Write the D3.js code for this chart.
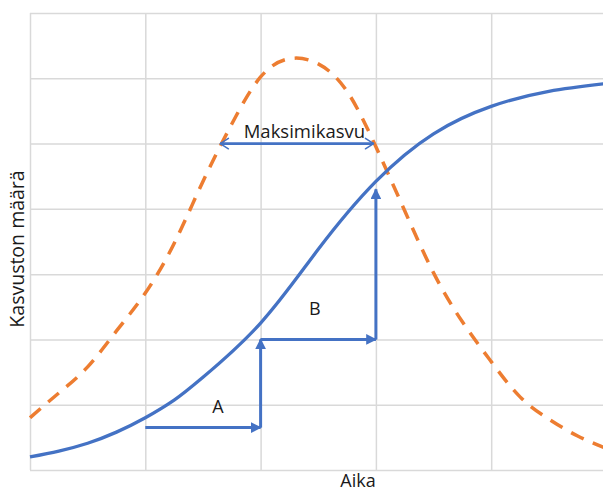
<!DOCTYPE html>
<html>
<head>
<meta charset="utf-8">
<script src="https://cdn.jsdelivr.net/npm/d3@7"></script>
<style>
  body { margin: 0; background: #fff; }
  svg { display: block; font-family: "Open Sans", "Noto Sans", sans-serif; }
</style>
</head>
<body>
<div id="chart"></div>
<script>
// growth curve (blue): time, amount
var growthX = [0, 0.25, 0.5, 0.75, 1, 1.25, 1.5, 2, 2.5, 3, 3.5, 4, 4.5, 5];
var growthY = [0.2, 0.29, 0.41, 0.58, 0.8, 1.07, 1.42, 2.25, 3.38, 4.42, 5.15, 5.57, 5.8, 5.92];

// growth rate (orange dashed)
var rateX = [0, 0.25, 0.5, 0.75, 1, 1.25, 1.5, 1.75, 2, 2.25, 2.5, 2.75, 3, 3.25, 3.5, 3.75, 4, 4.25, 4.5, 4.75, 5];
var rateY = [0.8, 1.18, 1.58, 2.13, 2.71, 3.47, 4.42, 5.3, 6.02, 6.3, 6.22, 5.8, 4.95, 3.97, 3.02, 2.27, 1.66, 1.12, 0.78, 0.52, 0.33];

// step arrows A and B: [x1, y1, x2, y2]
var stepArrows = [
  [1, 0.65, 2, 0.65],
  [2, 0.65, 2, 2.0],
  [2, 2.0, 3, 2.0],
  [3, 2.0, 3, 4.3]
];
// double arrow for "Maksimikasvu"
var maxArrow = [1.65, 5.0, 2.98, 5.0];

var labels = [
  {text: "A", x: 1.63, y: 0.87},
  {text: "B", x: 2.47, y: 2.37},
  {text: "Maksimikasvu", x: 2.38, y: 5.08}
];

var xTicks = [0, 1, 2, 3, 4, 5];
var yTicks = [0, 1, 2, 3, 4, 5, 6, 7];

var W = 603, H = 491;
var blue = "#4472c4", orange = "#ed7d31";

var svg = d3.select("#chart").append("svg")
    .attr("width", W)
    .attr("height", H);

var x = d3.scaleLinear().domain([0, 5]).range([30, 606.5]);
var y = d3.scaleLinear().domain([0, 7]).range([470, 13]);

// arrow heads
var defs = svg.append("defs");
defs.append("marker")
    .attr("id", "tri")
    .attr("viewBox", "0 0 10 10")
    .attr("refX", 9).attr("refY", 5)
    .attr("markerWidth", 3.6).attr("markerHeight", 3.6)
    .attr("markerUnits", "strokeWidth")
    .attr("orient", "auto")
    .append("path")
    .attr("d", "M0,0 L10,5 L0,10 Z")
    .attr("fill", blue);
defs.append("marker")
    .attr("id", "open")
    .attr("viewBox", "0 0 12 12")
    .attr("refX", 10).attr("refY", 6)
    .attr("markerWidth", 5).attr("markerHeight", 5)
    .attr("markerUnits", "strokeWidth")
    .attr("orient", "auto-start-reverse")
    .append("path")
    .attr("d", "M3,1.5 L10,6 L3,10.5")
    .attr("fill", "none")
    .attr("stroke", blue)
    .attr("stroke-width", 1.3)
    .attr("stroke-linecap", "round")
    .attr("stroke-linejoin", "round");

// grid
svg.append("g")
    .attr("transform", "translate(0," + y(0) + ")")
    .call(d3.axisBottom(x).tickValues(xTicks).tickSize(-(y(0) - y(7))).tickFormat(""))
    .call(function(g) {
      g.select(".domain").remove();
      g.selectAll("line").attr("stroke", "#d9d9d9").attr("stroke-width", 1.5);
    });
svg.append("g")
    .attr("transform", "translate(" + x(0) + ",0)")
    .call(d3.axisLeft(y).tickValues(yTicks).tickSize(-(x(5) - x(0))).tickFormat(""))
    .call(function(g) {
      g.select(".domain").remove();
      g.selectAll("line").attr("stroke", "#d9d9d9").attr("stroke-width", 1.5);
    });

// rate curve
var rateLine = d3.line()
    .x(function(d, i) { return x(rateX[i]); })
    .y(function(d, i) { return y(rateY[i]); })
    .curve(d3.curveNatural);
svg.append("path")
    .attr("d", rateLine(rateX))
    .attr("fill", "none")
    .attr("stroke", orange)
    .attr("stroke-width", 3.5)
    .attr("stroke-dasharray", "14,10");

// growth curve
var growthLine = d3.line()
    .x(function(d, i) { return x(growthX[i]); })
    .y(function(d, i) { return y(growthY[i]); })
    .curve(d3.curveNatural);
svg.append("path")
    .attr("d", growthLine(growthX))
    .attr("fill", "none")
    .attr("stroke", blue)
    .attr("stroke-width", 3.3);

// step arrows
svg.selectAll(".step")
    .data(stepArrows)
    .enter().append("line")
    .attr("class", "step")
    .attr("x1", function(d) { return x(d[0]); })
    .attr("y1", function(d) { return y(d[1]); })
    .attr("x2", function(d) { return x(d[2]); })
    .attr("y2", function(d) { return y(d[3]); })
    .attr("stroke", blue)
    .attr("stroke-width", 3)
    .attr("marker-end", "url(#tri)");

svg.append("line")
    .attr("x1", x(maxArrow[0])).attr("y1", y(maxArrow[1]))
    .attr("x2", x(maxArrow[2])).attr("y2", y(maxArrow[3]))
    .attr("stroke", blue)
    .attr("stroke-width", 2.8)
    .attr("marker-start", "url(#open)")
    .attr("marker-end", "url(#open)");

// labels
svg.selectAll(".lbl")
    .data(labels)
    .enter().append("text")
    .attr("class", "lbl")
    .attr("x", function(d) { return x(d.x); })
    .attr("y", function(d) { return y(d.y); })
    .attr("text-anchor", "middle")
    .attr("font-size", function(d) { return d.text.length > 1 ? 18.5 : 18; })
    .attr("fill", "#1a1a1a")
    .text(function(d) { return d.text; });

// axis titles
svg.append("text")
    .attr("x", 358)
    .attr("y", 487)
    .attr("text-anchor", "middle")
    .attr("font-size", 18)
    .attr("fill", "#1a1a1a")
    .text("Aika");

svg.append("text")
    .attr("transform", "translate(24,249) rotate(-90)")
    .attr("text-anchor", "middle")
    .attr("font-size", 19.5)
    .attr("fill", "#1a1a1a")
    .text("Kasvuston määrä");
</script>
</body>
</html>
